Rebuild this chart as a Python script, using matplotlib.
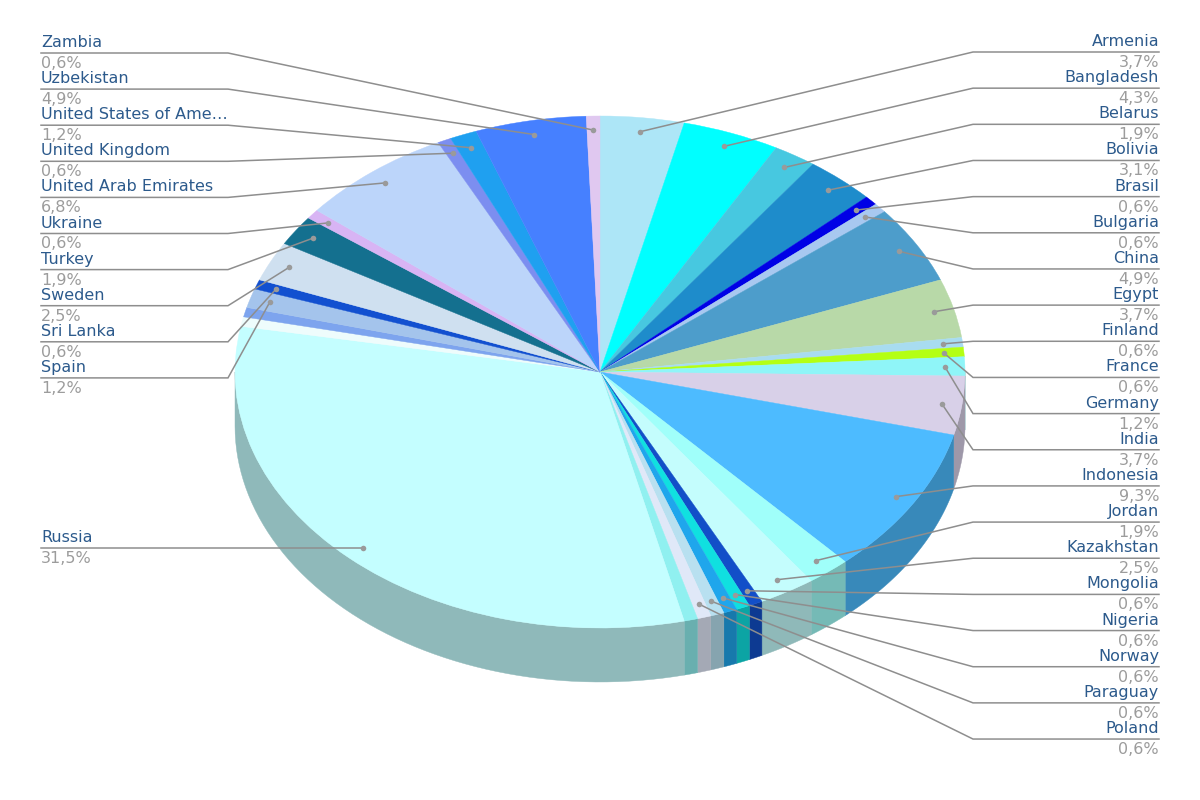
#! /usr/bin/env python3

"3D looking pie chart of share per country, with leader lines on both sides"

import numpy as np
import matplotlib
matplotlib.use("Agg")
import matplotlib.pyplot as plt

# clockwise from 12 o'clock, empty name = slice without a label
countries = ["Armenia", "Bangladesh", "Belarus", "Bolivia", "Brasil", "Bulgaria",
             "China", "Egypt", "Finland", "France", "Germany", "India", "Indonesia",
             "Jordan", "Kazakhstan", "Mongolia", "Nigeria", "Norway", "Paraguay",
             "Poland", "", "Russia", "", "", "Spain", "Sri Lanka", "Sweden", "Turkey",
             "Ukraine", "United Arab Emirates", "United Kingdom",
             "United States of Ame\u2026", "Uzbekistan", "Zambia"]
shares = [3.7, 4.3, 1.9, 3.1, 0.6, 0.6,
          4.9, 3.7, 0.6, 0.6, 1.2, 3.7, 9.3,
          1.9, 2.5, 0.6, 0.6, 0.6, 0.6,
          0.6, 0.6, 31.5, 0.6, 0.6, 1.2, 0.6, 2.5, 1.9,
          0.6, 6.8, 0.6,
          1.2, 4.9, 0.6]
colors = ["#ade6f7", "#00ffff", "#47c8e0", "#1e8ccb", "#0000e6", "#a8c8f0",
          "#4d9dcb", "#b8d9a8", "#a8dcf0", "#b4ff14", "#8ff5f8", "#d8d0e8", "#4dbbff",
          "#a0fffa", "#c4fdfd", "#124fc8", "#10e0e0", "#1fa6ec", "#b8e0f0",
          "#e0e8f8", "#90f0f0", "#c4feff", "#eefcfc", "#7da4ee", "#a4c4ec", "#1250d0",
          "#cfe0f0", "#14708f", "#d8b4f4", "#bcd5fa", "#7c8ef0",
          "#1fa0f0", "#4680ff", "#e0c8f0"]

CX, CY = 600, 372
RX, RY = 365, 256
DEPTH = 54
DOT_R = 0.945
LINE = "#8e8e8e"
NAME = "#2c5a8c"
PCT = "#9c9c9c"

fig = plt.figure(figsize=(12, 8), dpi=100)
ax = fig.add_axes([0, 0, 1, 1])
ax.pie(shares, colors=colors, startangle=90, counterclock=False,
       wedgeprops={"linewidth": 0.3, "zorder": 3})
for w, c in zip(ax.patches, colors):
    w.set_edgecolor(c)
ax.set_aspect("auto")
ax.set_xlim(-CX / RX, (1200 - CX) / RX)
ax.set_ylim(-(800 - CY) / RY, CY / RY)
ax.axis("off")

# side wall, only the front half of the pie shows it
drop = DEPTH / RY
edges = np.cumsum([0] + shares) / sum(shares) * 2 * np.pi
for start, stop, c in zip(edges[:-1], edges[1:], colors):
    a = max(start, np.pi / 2)
    b = min(stop, 3 * np.pi / 2)
    if b <= a:
        continue
    t = np.linspace(a, b, 60)
    x = np.sin(t)
    y = np.cos(t)
    dark = [v * 0.73 for v in matplotlib.colors.to_rgb(c)]
    ax.fill(np.r_[x, x[::-1]], np.r_[y, y[::-1] - drop], color=dark, lw=0.3, zorder=1)

# labels and leader lines in pixel coordinates
lab = fig.add_axes([0, 0, 1, 1], facecolor="none")
lab.set_xlim(0, 1200)
lab.set_ylim(800, 0)
lab.axis("off")

mids = (edges[:-1] + edges[1:]) / 2


def label(i, rule_y, side):
    "name above the rule, percent under it, line bent towards the slice"
    dot_x = CX + RX * DOT_R * np.sin(mids[i])
    dot_y = CY - RY * DOT_R * np.cos(mids[i])
    if side == "left":
        xs = [41, 228, dot_x]
        tx, ha = 41, "left"
    else:
        xs = [1159, 973, dot_x]
        tx, ha = 1159, "right"
    lab.plot(xs, [rule_y, rule_y, dot_y], color=LINE, lw=1.1, solid_joinstyle="miter")
    lab.plot(dot_x, dot_y, "o", color="#9a9a9a", ms=4, mew=0)
    pct = ("%.1f" % shares[i]).replace(".", ",") + "%"
    lab.text(tx, rule_y - 6, countries[i], color=NAME, fontsize=11.5, ha=ha, va="baseline")
    lab.text(tx, rule_y + 15, pct, color=PCT, fontsize=11.5, ha=ha, va="baseline")


for row in range(20):
    label(row, 52 + row * 36.16, "right")

for row, i in enumerate(range(len(countries) - 1, 23, -1)):
    label(i, 53 + row * 36.1, "left")
russia = countries.index("Russia")
label(russia, CY - RY * DOT_R * np.cos(mids[russia]), "left")

plt.savefig("out.png", dpi=100)
